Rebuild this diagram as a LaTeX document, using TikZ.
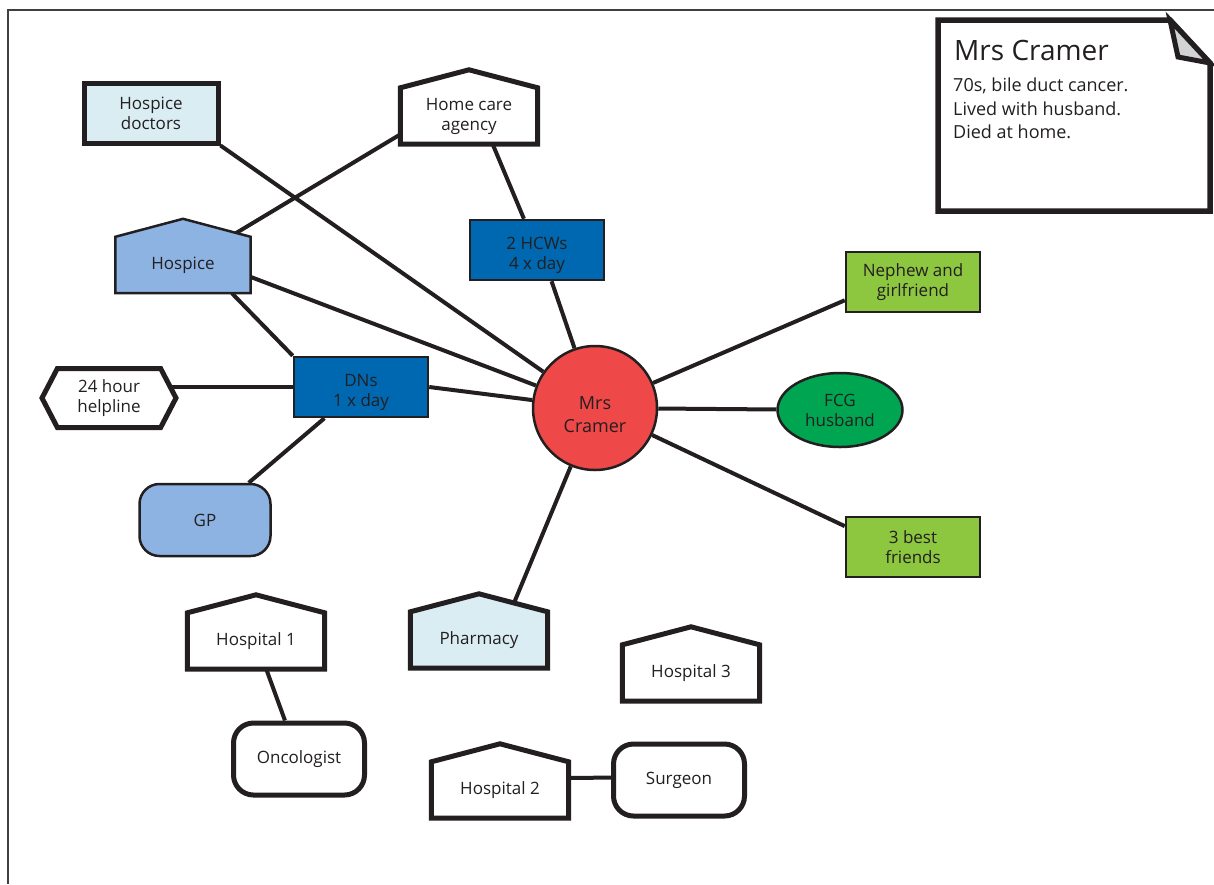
\documentclass[tikz,border=0pt]{standalone}
\usepackage{fontspec}
\setmainfont{Open Sans}
\usetikzlibrary{shapes.geometric,shapes.symbols}
\definecolor{ink}{HTML}{231F20}
\definecolor{paleblue}{HTML}{DAEDF3}
\definecolor{midblue}{HTML}{8DB3E2}
\definecolor{deepblue}{HTML}{0067B1}
\definecolor{redfill}{HTML}{EF4848}
\definecolor{limefill}{HTML}{8DC63F}
\definecolor{greenfill}{HTML}{00A551}
\definecolor{foldgrey}{HTML}{D1D3D4}
\pgfdeclarelayer{edges}
\pgfdeclarelayer{roofs}
\pgfsetlayers{edges,roofs,main}

\begin{document}
\begin{tikzpicture}[x=1pt,y=-1pt,font=\fontsize{17}{20}\selectfont,text=ink,
base/.style={draw=ink,align=center,inner sep=2pt},
heavy/.style={line width=5pt},
light/.style={line width=2.5pt},
cell/.style={base,rectangle,minimum width=134pt,minimum height=60pt},
pill/.style={base,rounded corners=20pt,minimum width=131pt,minimum height=72pt},
house/.style={align=center,inner sep=0pt,minimum width=137pt,minimum height=56pt},
inside/.style={label={[align=center,yshift=-5pt]center:#1}},
link/.style={draw=ink,line width=4pt}]
 \useasboundingbox (0,0) rectangle (1214,884);
 \draw[black!75,line width=1.2pt] (1214,10) -- (8,10) -- (8,884);

 \node[cell,heavy,fill=paleblue] (hd) at (151,113) {Hospice\\doctors};
 \node[house] (hca) at (469,116) {Home care\\agency};
 \node[house,minimum width=135pt] (hosp) at (183,265) {Hospice};
 \node[cell,light,fill=deepblue,inside={2 HCWs\\4 x day}] (hcw) at (537,250) {};
 \node[cell,light,fill=deepblue,inside={DNs\\1 x day}] (dns) at (361,387) {};
 \node[base,heavy,signal,signal to=west and east,signal pointer angle=125,
 minimum width=134pt,minimum height=59pt,fill=white] (help) at (109,398)
 {24 hour\\helpline};
 \node[pill,light,fill=midblue] (gp) at (205,520) {GP};
 \node[base,light,circle,minimum size=124pt,fill=redfill,
 label={[align=center,yshift=-7pt,font=\fontsize{18}{23}\selectfont]center:Mrs\\Cramer}]
 (cramer) at (595,408) {};
 \node[cell,light,fill=limefill] (nephew) at (913,282) {Nephew and\\girlfriend};
 \node[base,light,ellipse,minimum width=125pt,minimum height=74pt,
 fill=greenfill] (fcg) at (840,410) {FCG\\husband};
 \node[cell,light,fill=limefill] (friends) at (913,547) {3 best\\friends};
 \node[house] (pharm) at (479,640) {Pharmacy};
 \node[house] (hosp1) at (256,641) {Hospital 1};
 \node[house] (hosp3) at (691,673) {Hospital 3};
 \node[house] (hosp2) at (500,790) {Hospital 2};
 \node[pill,heavy,fill=white] (onc) at (299,759) {Oncologist};
 \node[pill,heavy,fill=white] (surg) at (679,780) {Surgeon};

 \begin{pgfonlayer}{roofs}
 \foreach \n/\c/\w in {hca/white/5,hosp/midblue/2.5,pharm/paleblue/5,
 hosp1/white/5,hosp2/white/5,hosp3/white/5}
 {\filldraw[draw=ink,fill=\c,line width=\w pt] (\n.south west) -- (\n.north west)
 -- ([yshift=18pt]\n.north) -- (\n.north east) -- (\n.south east) -- cycle;}
 \end{pgfonlayer}

 \begin{pgfonlayer}{edges}
 \foreach \a/\b in {hd.south east/cramer,hca.195/hosp,hca.-50/hcw,
 hcw.-65/cramer,hosp.-10/cramer,hosp.-30/dns.north west,dns.east/cramer,
 gp/dns,cramer/nephew.195,cramer/fcg,cramer/friends.163,cramer/pharm.42,
 hosp1/onc,hosp2.10/surg.178}
 {\draw[link] (\a) -- (\b);}
 \draw[link] (dns.west) -- (dns.west -| help.center);
 \end{pgfonlayer}

 \filldraw[draw=ink,fill=white,line width=5.5pt] (938,20) -- (1170,20)
 -- (1210,63) -- (1210,211) -- (938,211) -- cycle;
 \filldraw[draw=ink,fill=foldgrey,line width=5pt] (1170,20) -- (1178,57)
 -- (1210,63) -- cycle;
 \node[anchor=base west,inner sep=0pt,font=\fontsize{28}{34}\selectfont]
 (title) at (954,60) {Mrs Cramer};
 \node[anchor=north west,align=left,inner sep=0pt,
 font=\fontsize{18}{23.3}\selectfont] (facts) at (953,78)
 {70s, bile duct cancer.\\Lived with husband.\\Died at home.};
\end{tikzpicture}
\end{document}
